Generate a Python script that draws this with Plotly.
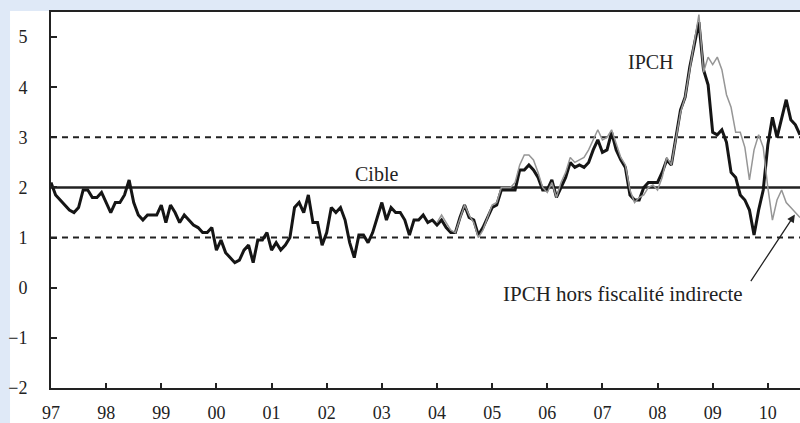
import plotly.graph_objects as go

# IPCH, glissement annuel en %, mensuel janv. 1997 - août 2010
ipch = [
    2.1, 1.85, 1.75, 1.65, 1.55, 1.5, 1.6, 1.95, 1.95, 1.8, 1.8, 1.9,          # 1997
    1.7, 1.5, 1.7, 1.7, 1.85, 2.15, 1.7, 1.45, 1.35, 1.45, 1.45, 1.45,        # 1998
    1.65, 1.3, 1.65, 1.5, 1.3, 1.45, 1.35, 1.25, 1.2, 1.1, 1.1, 1.2,          # 1999
    0.75, 0.95, 0.7, 0.6, 0.5, 0.55, 0.75, 0.85, 0.5, 0.95, 0.95, 1.1,        # 2000
    0.75, 0.9, 0.75, 0.85, 1.0, 1.6, 1.7, 1.5, 1.85, 1.3, 1.3, 0.85,          # 2001
    1.1, 1.6, 1.5, 1.6, 1.35, 0.9, 0.6, 1.05, 1.05, 0.9, 1.1, 1.4,            # 2002
    1.7, 1.35, 1.6, 1.5, 1.5, 1.35, 1.05, 1.35, 1.35, 1.45, 1.3, 1.35,        # 2003
    1.25, 1.35, 1.2, 1.1, 1.1, 1.4, 1.65, 1.4, 1.35, 1.05, 1.2, 1.4,          # 2004
    1.6, 1.65, 1.95, 1.95, 1.95, 1.95, 2.35, 2.35, 2.45, 2.35, 2.2, 1.95,     # 2005
    1.95, 2.15, 1.8, 2.0, 2.2, 2.5, 2.4, 2.45, 2.4, 2.5, 2.75, 2.95,          # 2006
    2.7, 2.75, 3.1, 2.75, 2.55, 2.4, 1.85, 1.75, 1.75, 2.0, 2.1, 2.1,         # 2007
    2.1, 2.3, 2.55, 2.45, 3.0, 3.55, 3.8, 4.4, 4.85, 5.3, 4.35, 4.05,         # 2008
    3.1, 3.05, 3.15, 2.9, 2.3, 2.2, 1.85, 1.75, 1.55, 1.05, 1.55, 1.95,       # 2009
    2.85, 3.4, 3.0, 3.4, 3.75, 3.35, 3.25, 3.05,                               # 2010
]

# IPCH hors fiscalité indirecte, à partir de janv. 2004
ipch_hfi = [
    1.3, 1.45, 1.3, 1.15, 1.1, 1.4, 1.65, 1.45, 1.3, 1.0, 1.15, 1.4,          # 2004
    1.65, 1.7, 2.0, 2.0, 2.0, 2.1, 2.45, 2.65, 2.65, 2.55, 2.3, 2.0,          # 2005
    1.9, 2.1, 1.8, 2.1, 2.3, 2.6, 2.5, 2.55, 2.6, 2.75, 2.95, 3.15,           # 2006
    2.95, 3.0, 3.15, 2.85, 2.6, 2.45, 1.95, 1.7, 1.8, 1.85, 2.0, 2.05,        # 2007
    1.95, 2.2, 2.6, 2.45, 3.0, 3.5, 3.8, 4.4, 4.9, 5.45, 4.3, 4.6,            # 2008
    4.45, 4.6, 4.35, 3.85, 3.6, 3.1, 3.1, 2.8, 2.15, 2.75, 3.05, 2.8,         # 2009
    2.0, 1.35, 1.75, 1.95, 1.7, 1.6, 1.5, 1.4,                                 # 2010
]

cible = 2
bornes = [1, 3]
annees = list(range(1997, 2011))
labels_annees = [str(a)[2:] for a in annees]

t_ipch = [1997 + i / 12 for i in range(len(ipch))]
t_hfi = [2004 + i / 12 for i in range(len(ipch_hfi))]

serif = "Liberation Serif"

fig = go.Figure()
fig.add_trace(go.Scatter(x=t_ipch, y=ipch, mode="lines",
                         line=dict(color="#151515", width=3)))
fig.add_trace(go.Scatter(x=t_hfi, y=ipch_hfi, mode="lines",
                         line=dict(color="#969696", width=1.5)))

# fond blanc du cadre
fig.add_shape(type="rect", xref="paper", yref="paper",
              x0=-0.0547, x1=1.01, y0=-0.1, y1=1.0027,
              fillcolor="white", line_width=0, layer="below")

fig.add_shape(type="line", xref="paper", x0=0, x1=1, y0=cible, y1=cible,
              line=dict(color="#222", width=2.5), layer="below")
for b in bornes:
    fig.add_shape(type="line", xref="paper", x0=0, x1=1, y0=b, y1=b,
                  line=dict(color="#222", width=2, dash="6px,5px"), layer="below")

fig.add_annotation(x=2002.9, y=2.27, text="Cible", showarrow=False,
                   font=dict(family=serif, size=20, color="#222"))
fig.add_annotation(x=2007.88, y=4.5, text="IPCH", showarrow=False,
                   font=dict(family=serif, size=20, color="#222"))
fig.add_annotation(x=2007.38, y=-0.12, text="IPCH hors fiscalité indirecte",
                   showarrow=False, font=dict(family=serif, size=21, color="#222"))
fig.add_annotation(x=2010.49, y=1.46, ax=-45, ay=68, text="",
                   showarrow=True, arrowhead=2, arrowsize=1.2, arrowwidth=1.3,
                   arrowcolor="#222")

fig.update_xaxes(range=[1997, 1997 + 163 / 12], tickvals=annees, ticktext=labels_annees,
                 ticks="inside", ticklen=5, tickwidth=1.5, tickcolor="#222",
                 showline=True, linewidth=2, linecolor="#222", mirror=True,
                 showgrid=False, zeroline=False, ticklabelstandoff=7, automargin=False,
                 tickfont=dict(family=serif, size=18, color="#222"))
fig.update_yaxes(range=[-2, 5.5], tickvals=list(range(-2, 6)),
                 ticks="inside", ticklen=6, tickwidth=1.5, tickcolor="#222",
                 showline=True, linewidth=2, linecolor="#222",
                 showgrid=False, zeroline=False, ticklabelstandoff=18, automargin=False,
                 tickfont=dict(family=serif, size=18, color="#222"))

fig.update_layout(width=800, height=423, showlegend=False,
                  margin=dict(l=51, r=0, t=12, b=35),
                  paper_bgcolor="#dfe9f7", plot_bgcolor="white")

# la page a une marge de 8px par défaut : on la retire
fig.write_html("out.html", config={"displayModeBar": False},
               post_script="document.body.style.margin='0';document.body.style.overflow='hidden';")
